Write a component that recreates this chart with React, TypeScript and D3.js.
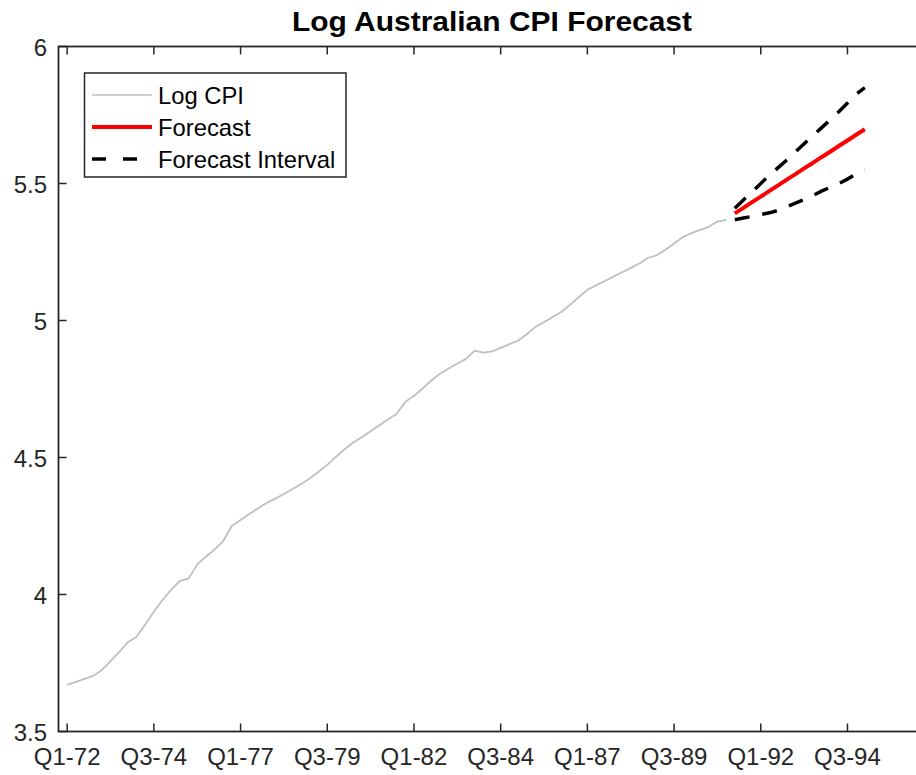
import React from "react";
import * as d3 from "d3";

// Log Australian CPI, quarterly from Q1-72 (index 1) to Q1-91 (index 77)
const logCPI: number[] = [
  3.670, 3.681, 3.692, 3.703, 3.724, 3.757, 3.790, 3.826, 3.846, 3.890,
  3.938, 3.980, 4.018, 4.050, 4.058, 4.110, 4.138, 4.164, 4.195, 4.250,
  4.272, 4.294, 4.314, 4.334, 4.350, 4.367, 4.385, 4.403, 4.424, 4.448,
  4.473, 4.502, 4.530, 4.555, 4.575, 4.596, 4.618, 4.639, 4.660, 4.703,
  4.725, 4.752, 4.781, 4.806, 4.825, 4.843, 4.860, 4.890, 4.883, 4.887,
  4.900, 4.914, 4.926, 4.950, 4.976, 4.994, 5.013, 5.031, 5.057, 5.085,
  5.112, 5.128, 5.144, 5.160, 5.176, 5.192, 5.208, 5.229, 5.238, 5.258,
  5.281, 5.304, 5.319, 5.331, 5.342, 5.361, 5.367,
];

// Forecast horizon: indices 78..93
const forecastStart = 78;
const forecast: number[] = [
  5.391, 5.411, 5.432, 5.452, 5.473, 5.493, 5.514, 5.534,
  5.555, 5.575, 5.596, 5.616, 5.637, 5.657, 5.678, 5.698,
];
const upperBound: number[] = [
  5.410, 5.440, 5.470, 5.500, 5.530, 5.558, 5.586, 5.615,
  5.645, 5.674, 5.703, 5.732, 5.762, 5.794, 5.826, 5.850,
];
const lowerBound: number[] = [
  5.368, 5.374, 5.380, 5.387, 5.393, 5.402, 5.415, 5.428,
  5.441, 5.456, 5.472, 5.486, 5.500, 5.516, 5.535, 5.550,
];

const xTickPositions: number[] = [1, 11, 21, 31, 41, 51, 61, 71, 81, 91];
const xTickLabels: string[] = [
  "Q1-72", "Q3-74", "Q1-77", "Q3-79", "Q1-82",
  "Q3-84", "Q1-87", "Q3-89", "Q1-92", "Q3-94",
];
const yTicks: number[] = [3.5, 4, 4.5, 5, 5.5, 6];
const legendLabels: string[] = ["Log CPI", "Forecast", "Forecast Interval"];

const W = 916;
const H = 775;
const FONT = "'Liberation Sans', Arial, Helvetica, sans-serif";
const AX = "#262626";

export default function App() {
  const x = d3.scaleLinear().domain([0, 100]).range([58.5, 925.5]);
  const y = d3.scaleLinear().domain([3.5, 6]).range([731.5, 46.5]);
  const [x0, x1] = x.range();
  const [yb, yt] = y.range();

  const line = d3
    .line<[number, number]>()
    .x((d) => x(d[0]))
    .y((d) => y(d[1]));

  const cpiPts: [number, number][] = logCPI.map((v, i) => [i + 1, v]);
  const fPts: [number, number][] = forecast.map((v, i) => [forecastStart + i, v]);
  const uPts: [number, number][] = upperBound.map((v, i) => [forecastStart + i, v]);
  const lPts: [number, number][] = lowerBound.map((v, i) => [forecastStart + i, v]);

  const tickLen = 8;
  const legendRows = [95, 127, 159];

  return (
    <svg
      width={W}
      height={H}
      style={{ position: "absolute", left: 0, top: 0, background: "#fff" }}
      fontFamily={FONT}
    >
      <defs>
        <clipPath id="plotclip">
          <rect x={x0} y={yt} width={x1 - x0} height={yb - yt} />
        </clipPath>
      </defs>
      <rect x={0} y={0} width={W} height={H} fill="#fff" />

      {/* title */}
      <text
        x={(x0 + x1) / 2}
        y={31}
        textAnchor="middle"
        fontSize={28}
        fontWeight="bold"
        fill="#000"
        textLength={400}
        lengthAdjust="spacingAndGlyphs"
      >
        Log Australian CPI Forecast
      </text>

      {/* data lines */}
      <g clipPath="url(#plotclip)">
        <path d={line(cpiPts) || ""} fill="none" stroke="#bfbfbf" strokeWidth={1.8} strokeLinejoin="round" />
        <path d={line(fPts) || ""} fill="none" stroke="#ff0000" strokeWidth={4} strokeLinejoin="round" />
        <path d={line(uPts) || ""} fill="none" stroke="#000" strokeWidth={3.5} strokeDasharray="15,13" />
        <path d={line(lPts) || ""} fill="none" stroke="#000" strokeWidth={3.5} strokeDasharray="15,13" />
      </g>

      {/* axes box */}
      <rect x={x0} y={yt} width={x1 - x0} height={yb - yt} fill="none" stroke={AX} strokeWidth={1.8} />

      {/* x ticks */}
      {xTickPositions.map((t, i) => (
        <g key={"xt" + i}>
          <line x1={x(t)} x2={x(t)} y1={yb} y2={yb - tickLen} stroke={AX} strokeWidth={1.5} />
          <line x1={x(t)} x2={x(t)} y1={yt} y2={yt + tickLen} stroke={AX} strokeWidth={1.5} />
          <text x={x(t)} y={765} textAnchor="middle" fontSize={24} fill={AX}>
            {xTickLabels[i]}
          </text>
        </g>
      ))}

      {/* y ticks */}
      {yTicks.map((t, i) => (
        <g key={"yt" + i}>
          <line x1={x0} x2={x0 + tickLen} y1={y(t)} y2={y(t)} stroke={AX} strokeWidth={1.5} />
          <line x1={x1} x2={x1 - tickLen} y1={y(t)} y2={y(t)} stroke={AX} strokeWidth={1.5} />
          <text x={47} y={y(t) + 9} textAnchor="end" fontSize={24} fill={AX}>
            {String(t)}
          </text>
        </g>
      ))}

      {/* legend */}
      <g>
        <rect x={84.5} y={73} width={261.5} height={104} fill="#fff" stroke={AX} strokeWidth={1.5} />
        <line x1={92} x2={152} y1={legendRows[0]} y2={legendRows[0]} stroke="#bfbfbf" strokeWidth={1.5} />
        <line x1={92} x2={152} y1={legendRows[1]} y2={legendRows[1]} stroke="#ff0000" strokeWidth={4} />
        <line x1={92} x2={152} y1={legendRows[2]} y2={legendRows[2]} stroke="#000" strokeWidth={3.5} strokeDasharray="14,17" />
        {legendLabels.map((s, i) => (
          <text key={"lg" + i} x={158} y={legendRows[i] + 8.5} fontSize={23.8} fill="#000">
            {s}
          </text>
        ))}
      </g>
    </svg>
  );
}
